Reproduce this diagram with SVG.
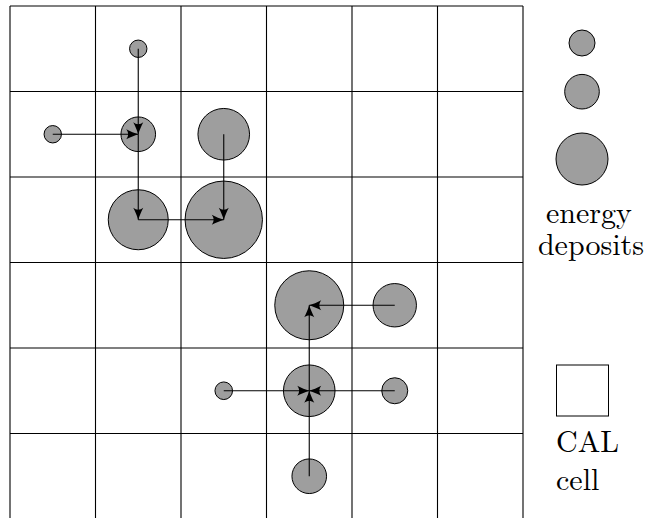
<svg xmlns="http://www.w3.org/2000/svg" width="646" height="518" viewBox="0 0 646 518">
<style>
.grid{stroke:#000;stroke-width:1.1;fill:none}
.dep{fill:#9e9e9e;stroke:#000;stroke-width:1}
.con{stroke:#000;stroke-width:1.1;fill:none;marker-end:url(#ah)}
.lbl{font-family:"Latin Modern Roman","Liberation Serif","DejaVu Serif",serif;font-size:30px;fill:#000}
</style>
<defs>
<marker id="ah" markerUnits="userSpaceOnUse" viewBox="-13 -6 14 12" refX="0" refY="0" markerWidth="14" markerHeight="12" orient="auto">
<path d="M0,0 C-3.5,-1 -8,-3 -12,-5 C-9.5,-2 -9.5,2 -12,5 C-8,3 -3.5,1 0,0 Z" fill="#000"/>
</marker>
</defs>
<rect width="646" height="518" fill="#fff"/>
<g id="grid" class="grid">
<path d="M10,6 V519 M95.5,6 V519 M181,6 V519 M266.5,6 V519 M352,6 V519 M437.5,6 V519 M523,6 V519"/>
<path d="M10,6 H523 M10,91.5 H523 M10,177 H523 M10,262.5 H523 M10,348 H523 M10,433.5 H523"/>
</g>
<g id="d1"><circle class="dep" cx="138.25" cy="48.75" r="8.7"/></g>
<g id="d2"><circle class="dep" cx="52.75" cy="134.25" r="8.7"/></g>
<g id="d3"><circle class="dep" cx="138.25" cy="134.25" r="17.3"/></g>
<g id="d4"><circle class="dep" cx="223.75" cy="134.25" r="25.8"/></g>
<g id="d5"><circle class="dep" cx="138.25" cy="219.75" r="30"/></g>
<g id="d6"><circle class="dep" cx="223.75" cy="219.75" r="38.7"/></g>
<g id="d7"><circle class="dep" cx="309.25" cy="305.25" r="34.5"/></g>
<g id="d8"><circle class="dep" cx="394.75" cy="305.25" r="21.7"/></g>
<g id="d9"><circle class="dep" cx="223.75" cy="390.75" r="8.8"/></g>
<g id="d10"><circle class="dep" cx="309.25" cy="390.75" r="25.8"/></g>
<g id="d11"><circle class="dep" cx="394.75" cy="390.75" r="13"/></g>
<g id="d12"><circle class="dep" cx="309.25" cy="476.25" r="17.3"/></g>
<g id="connectors">
<path class="con" d="M138.25,48.75 V134.25"/>
<path class="con" d="M52.75,134.25 H138.25"/>
<path class="con" d="M138.25,134.25 V219.75"/>
<path class="con" d="M138.25,219.75 H223.75"/>
<path class="con" d="M223.75,134.25 V219.75"/>
<path class="con" d="M394.75,305.25 H309.25"/>
<path class="con" d="M309.25,390.75 V305.25"/>
<path class="con" d="M223.75,390.75 H309.25"/>
<path class="con" d="M394.75,390.75 H309.25"/>
<path class="con" d="M309.25,476.25 V390.75"/>
</g>
<g id="legend-deposits">
<circle class="dep" cx="582" cy="43" r="13"/>
<circle class="dep" cx="582" cy="91.7" r="17.3"/>
<circle class="dep" cx="582" cy="159" r="26"/>
<text class="lbl" x="589" y="223" text-anchor="middle">energy</text>
<text class="lbl" x="591" y="255" text-anchor="middle">deposits</text>
</g>
<g id="legend-cell">
<rect x="556.5" y="365" width="52" height="51" fill="#fff" stroke="#000" stroke-width="1"/>
<text class="lbl" x="556" y="452">CAL</text>
<text class="lbl" x="556" y="490">cell</text>
</g>
</svg>
